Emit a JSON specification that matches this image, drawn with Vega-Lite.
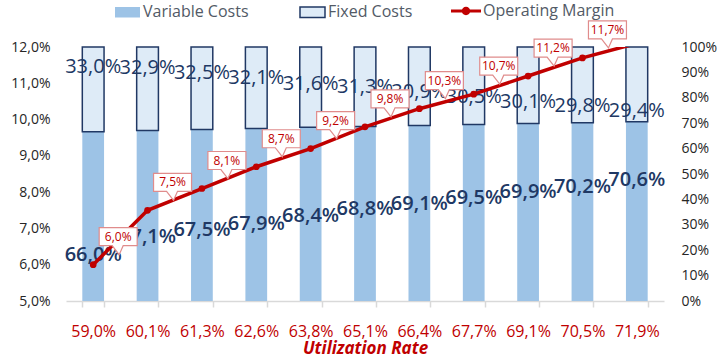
{
  "$schema": "https://vega.github.io/schema/vega-lite/v6.json",
  "width": 598,
  "height": 254,
  "autosize": {"type": "none"},
  "padding": {"left": 66, "top": 47, "right": 55, "bottom": 58},
  "config": {
    "locale": {"number": {"decimal": ",", "thousands": ".", "grouping": [3], "currency": ["", " €"]}},
    "font": "Open Sans",
    "view": {"stroke": null},
    "axis": {"grid": false}
  },
  "datasets": {
    "costs": [
      {"util": "59,0%", "type": "Variable Costs", "share": 0.660},
      {"util": "59,0%", "type": "Fixed Costs", "share": 0.330},
      {"util": "60,1%", "type": "Variable Costs", "share": 0.671},
      {"util": "60,1%", "type": "Fixed Costs", "share": 0.329},
      {"util": "61,3%", "type": "Variable Costs", "share": 0.675},
      {"util": "61,3%", "type": "Fixed Costs", "share": 0.325},
      {"util": "62,6%", "type": "Variable Costs", "share": 0.679},
      {"util": "62,6%", "type": "Fixed Costs", "share": 0.321},
      {"util": "63,8%", "type": "Variable Costs", "share": 0.684},
      {"util": "63,8%", "type": "Fixed Costs", "share": 0.316},
      {"util": "65,1%", "type": "Variable Costs", "share": 0.688},
      {"util": "65,1%", "type": "Fixed Costs", "share": 0.313},
      {"util": "66,4%", "type": "Variable Costs", "share": 0.691},
      {"util": "66,4%", "type": "Fixed Costs", "share": 0.309},
      {"util": "67,7%", "type": "Variable Costs", "share": 0.695},
      {"util": "67,7%", "type": "Fixed Costs", "share": 0.305},
      {"util": "69,1%", "type": "Variable Costs", "share": 0.699},
      {"util": "69,1%", "type": "Fixed Costs", "share": 0.301},
      {"util": "70,5%", "type": "Variable Costs", "share": 0.702},
      {"util": "70,5%", "type": "Fixed Costs", "share": 0.298},
      {"util": "71,9%", "type": "Variable Costs", "share": 0.706},
      {"util": "71,9%", "type": "Fixed Costs", "share": 0.294}
    ],
    "rows": [
      {"util": "59,0%", "variable": 0.660, "fixed": 0.330, "margin": 0.060},
      {"util": "60,1%", "variable": 0.671, "fixed": 0.329, "margin": 0.075},
      {"util": "61,3%", "variable": 0.675, "fixed": 0.325, "margin": 0.081},
      {"util": "62,6%", "variable": 0.679, "fixed": 0.321, "margin": 0.087},
      {"util": "63,8%", "variable": 0.684, "fixed": 0.316, "margin": 0.092},
      {"util": "65,1%", "variable": 0.688, "fixed": 0.313, "margin": 0.098},
      {"util": "66,4%", "variable": 0.691, "fixed": 0.309, "margin": 0.103},
      {"util": "67,7%", "variable": 0.695, "fixed": 0.305, "margin": 0.107},
      {"util": "69,1%", "variable": 0.699, "fixed": 0.301, "margin": 0.112},
      {"util": "70,5%", "variable": 0.702, "fixed": 0.298, "margin": 0.117},
      {"util": "71,9%", "variable": 0.706, "fixed": 0.294, "margin": 0.121}
    ]
  },
  "layer": [
    {
      "data": {"name": "costs"},
      "mark": {"type": "bar", "strokeWidth": 1.5},
      "encoding": {
        "x": {
          "field": "util", "type": "nominal", "sort": null,
          "scale": {"paddingInner": 0.6, "paddingOuter": 0.3},
          "axis": {
            "title": "Utilization Rate", "titleColor": "#c00000", "titleFontSize": 17,
            "titleFontWeight": "bold", "titleFontStyle": "italic", "titlePadding": 1,
            "labelColor": "#c00000", "labelFontSize": 16, "labelAngle": 0, "labelPadding": 16,
            "domainColor": "#d9d9d9", "domainWidth": 1.5, "tickColor": "#d9d9d9", "tickWidth": 1.5,
            "tickSize": 6, "tickBand": "extent"
          }
        },
        "y": {
          "field": "share", "type": "quantitative", "stack": "normalize",
          "scale": {"domain": [0, 1], "nice": false},
          "axis": {
            "orient": "right", "title": null, "format": ".0%",
            "values": [0, 0.1, 0.2, 0.3, 0.4, 0.5, 0.6, 0.7, 0.8, 0.9, 1],
            "domain": false, "ticks": false, "labelPadding": 17,
            "labelFontSize": 14, "labelColor": "#262626"
          }
        },
        "color": {
          "field": "type", "type": "nominal",
          "scale": {"domain": ["Variable Costs", "Fixed Costs"], "range": ["#9dc3e6", "#deebf7"]},
          "legend": {
            "orient": "none", "legendX": 48, "legendY": -48.5, "direction": "horizontal",
            "title": null, "labelFontSize": 16, "labelColor": "#525a66",
            "symbolSize": 625, "columnPadding": 48, "labelOffset": 2, "padding": 0,
            "symbolStrokeWidth": 1.5,
            "symbolType": "M-1,-0.42L1,-0.42L1,0.42L-1,0.42Z"
          }
        },
        "order": {"field": "type", "sort": "descending"},
        "stroke": {"condition": {"test": "datum.type === 'Fixed Costs' || datum.value === 'Fixed Costs'", "value": "#203864"}, "value": null}
      }
    },
    {
      "data": {"name": "rows"},
      "mark": {"type": "text", "fontSize": 20, "fontWeight": 600, "color": "#203864", "baseline": "middle", "align": "center"},
      "encoding": {
        "x": {"field": "util", "type": "nominal", "sort": null},
        "y": {"field": "variable", "type": "quantitative", "scale": {"domain": [0.6312, 0.7886], "nice": false, "zero": false}, "axis": null},
        "text": {"field": "variable", "type": "quantitative", "format": ".1%"}
      }
    },
    {
      "data": {"name": "rows"},
      "mark": {"type": "text", "fontSize": 20, "color": "#203864", "baseline": "middle", "align": "center"},
      "encoding": {
        "x": {"field": "util", "type": "nominal", "sort": null},
        "y": {"field": "fixed", "type": "quantitative", "scale": {"domain": [0.1368, 0.3464], "nice": false, "zero": false}, "axis": null},
        "text": {"field": "fixed", "type": "quantitative", "format": ".1%"}
      }
    },
    {
      "data": {"name": "rows"},
      "mark": {"type": "line", "color": "#c00000", "strokeWidth": 3.5, "clip": true},
      "encoding": {
        "x": {"field": "util", "type": "nominal", "sort": null},
        "y": {
          "field": "margin", "type": "quantitative",
          "scale": {"domain": [0.05, 0.12], "nice": false, "zero": false},
          "axis": {
            "orient": "left", "title": null, "format": ".1%",
            "values": [0.05, 0.06, 0.07, 0.08, 0.09, 0.10, 0.11, 0.12],
            "domain": false, "ticks": false, "labelPadding": 16,
            "labelFontSize": 14, "labelColor": "#262626"
          }
        }
      }
    },
    {
      "data": {"name": "rows"},
      "mark": {"type": "point", "filled": true, "color": "#c00000", "size": 45, "opacity": 1, "clip": true},
      "encoding": {
        "x": {"field": "util", "type": "nominal", "sort": null},
        "y": {"field": "margin", "type": "quantitative", "scale": {"domain": [0.05, 0.12], "nice": false, "zero": false}, "axis": null}
      }
    },
    {
      "data": {"name": "rows"},
      "mark": {"type": "point", "filled": true, "color": "#c00000", "opacity": 0, "clip": true},
      "encoding": {
        "x": {"field": "util", "type": "nominal", "sort": null},
        "y": {"field": "margin", "type": "quantitative", "scale": {"domain": [0.05, 0.12], "nice": false, "zero": false}, "axis": null},
        "shape": {
          "datum": "Operating Margin", "type": "nominal",
          "scale": {"range": ["M-1,-0.1L1,-0.1L1,0.1L-1,0.1Z M-0.28,0A0.28,0.28 0 1,1 0.28,0A0.28,0.28 0 1,1 -0.28,0Z"]},
          "legend": {
            "orient": "none", "legendX": 385, "legendY": -51, "title": null,
            "labelFontSize": 16, "labelColor": "#525a66", "symbolSize": 900,
            "symbolOpacity": 1, "symbolFillColor": "#c00000", "symbolStrokeColor": "#c00000",
            "symbolStrokeWidth": 0, "labelOffset": 2, "padding": 0
          }
        }
      }
    },
    {
      "data": {"name": "rows"},
      "transform": [{"filter": "datum.margin <= 0.12"}],
      "mark": {
        "type": "point",
        "shape": "M-0.95,-0.45L0.95,-0.45L0.95,0.45L0.25,0.45L0.05,0.9L-0.3,0.45L-0.95,0.45Z",
        "size": 1600, "filled": true, "fill": "white", "stroke": "#e08c8c", "strokeWidth": 1.2,
        "opacity": 1, "xOffset": 25, "yOffset": -28
      },
      "encoding": {
        "x": {"field": "util", "type": "nominal", "sort": null},
        "y": {"field": "margin", "type": "quantitative", "scale": {"domain": [0.05, 0.12], "nice": false, "zero": false}, "axis": null}
      }
    },
    {
      "data": {"name": "rows"},
      "transform": [{"filter": "datum.margin <= 0.12"}],
      "mark": {"type": "text", "fontSize": 12, "color": "#c00000", "dx": 25, "dy": -28, "baseline": "middle", "align": "center"},
      "encoding": {
        "x": {"field": "util", "type": "nominal", "sort": null},
        "y": {"field": "margin", "type": "quantitative", "scale": {"domain": [0.05, 0.12], "nice": false, "zero": false}, "axis": null},
        "text": {"field": "margin", "type": "quantitative", "format": ".1%"}
      }
    }
  ],
  "resolve": {"scale": {"y": "independent"}}
}
